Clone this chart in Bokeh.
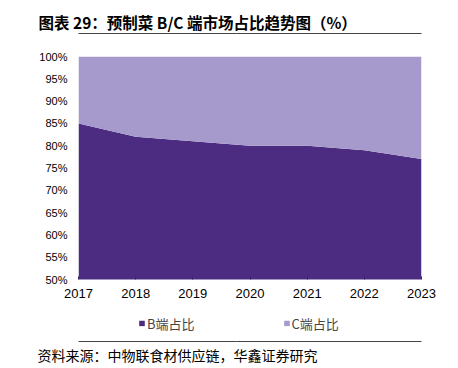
from bokeh.plotting import figure
from bokeh.layouts import column
from bokeh.models import (Range1d, FixedTicker, PrintfTickFormatter, Title,
                          LinearAxis, Legend, LegendItem, ColumnDataSource)
from bokeh.embed import file_html
from bokeh.resources import INLINE

years = [2017, 2018, 2019, 2020, 2021, 2022, 2023]
b_share = [85, 82, 81, 80, 80, 79, 77]
c_share = [15, 18, 19, 20, 20, 21, 23]
y_ticks = [50, 55, 60, 65, 70, 75, 80, 85, 90, 95, 100]
series_names = ["B端占比", "C端占比"]
title_text = "图表 29：预制菜 B/C 端市场占比趋势图（%）"
source_text = "资料来源：中物联食材供应链，华鑫证券研究"

DARK = "#4B2C81"
LIGHT = "#A699CC"
RULE = "#444444"
W, H = 458, 368
FL, FR, FT, FB = 78, 421, 56, 279   # frame edges in page pixels
MAIN_H = 310                        # height of the chart part
LEG_H = 26                          # height of the legend strip


def bare(fig):
    fig.outline_line_color = None
    fig.xgrid.visible = False
    fig.ygrid.visible = False
    fig.extra_x_ranges = {"page": Range1d(FL, FR)}


def helper_axis(bounds=(100, 400), gap=0, line=True):
    mid = (bounds[0] + bounds[1]) / 2.0
    ax = LinearAxis(x_range_name="page", ticker=FixedTicker(ticks=[mid]),
                    bounds=bounds,
                    major_tick_out=gap, major_tick_in=0, minor_tick_out=0,
                    minor_tick_in=0, major_tick_line_color=None,
                    minor_tick_line_color=None,
                    major_label_overrides={mid: ""},
                    major_label_text_font_size="0px",
                    major_label_standoff=0,
                    axis_line_color=RULE if line else None, axis_line_width=1)
    return ax


# ---- main chart ----
p = figure(frame_width=FR - FL, frame_height=FB - FT,
           output_backend="svg", toolbar_location=None,
           x_range=Range1d(2017, 2023), y_range=Range1d(50, 100),
           min_border_left=FL, min_border_right=W - FR, min_border_top=FT,
           min_border_bottom=MAIN_H - FB)
bare(p)

src = ColumnDataSource(dict(x=years, b=b_share, c=c_share))
rs = p.varea_stack(stackers=["b", "c"], x="x", source=src, color=[DARK, LIGHT])

p.yaxis.ticker = FixedTicker(ticks=y_ticks)
p.yaxis.formatter = PrintfTickFormatter(format="%d%%")
p.yaxis.axis_line_color = None
p.yaxis.major_tick_line_color = None
p.yaxis.minor_tick_line_color = None
p.yaxis.major_tick_out = 0
p.yaxis.major_label_standoff = 11
p.yaxis.major_label_text_font = "Liberation Sans"
p.yaxis.major_label_text_font_size = "11px"
p.yaxis.major_label_text_color = "#000000"

p.xaxis.ticker = FixedTicker(ticks=years)
p.xaxis.axis_line_color = None
p.xaxis.major_tick_in = 3
p.xaxis.major_tick_out = 0
p.xaxis.major_tick_line_color = "#3a2368"
p.xaxis.minor_tick_line_color = None
p.xaxis.major_label_standoff = 9
p.xaxis.major_label_text_font = "Liberation Sans"
p.xaxis.major_label_text_font_size = "13px"
p.xaxis.major_label_text_color = "#000000"

# above: spacer, rules, title
p.add_layout(helper_axis(gap=23, line=False), "above")
p.add_layout(helper_axis(bounds=(28, 236)), "above")
p.add_layout(helper_axis(bounds=(236, 445)), "above")
p.add_layout(helper_axis(bounds=(0, 10)), "above")
p.add_layout(Title(text=title_text, align="left", offset=38 - FL, standoff=2,
                   text_font="Noto Sans CJK SC", text_font_style="bold",
                   text_font_size="15.5px", text_color="#000000"), "above")

# ---- legend strip (legend sits inside this strip's frame) ----
leg = figure(frame_width=FR - FL, frame_height=LEG_H,
             output_backend="svg", toolbar_location=None,
             x_range=Range1d(2017, 2023), y_range=Range1d(200, 300),
             x_axis_type=None, y_axis_type=None,
             min_border_left=FL, min_border_right=W - FR, min_border_top=0,
             min_border_bottom=0)
bare(leg)
# same series, drawn outside this strip's visible range: only their legend shows
lrs = leg.varea_stack(stackers=["b", "c"], x="x", source=src, color=[DARK, LIGHT])
legend = Legend(items=[LegendItem(label=series_names[0], renderers=[lrs[0]]),
                       LegendItem(label=series_names[1], renderers=[lrs[1]])],
                location="left", orientation="horizontal",
                glyph_width=7, glyph_height=7, spacing=88, padding=0, margin=60,
                label_standoff=2, label_text_font="Noto Sans CJK SC",
                label_text_font_size="13px", border_line_color=None,
                background_fill_alpha=0)
leg.add_layout(legend, "center")

# ---- source strip: rule and source note in the above panel ----
SRC_H = H - MAIN_H - LEG_H
foot = figure(frame_width=FR - FL, frame_height=2,
              output_backend="svg", toolbar_location=None,
              x_range=Range1d(2017, 2023), y_range=Range1d(200, 300),
              x_axis_type=None, y_axis_type=None,
              min_border_left=FL, min_border_right=W - FR,
              min_border_top=SRC_H - 2, min_border_bottom=0)
bare(foot)
foot.add_layout(Title(text=source_text, align="left", offset=37 - FL, standoff=3,
                      text_font="Noto Sans CJK SC", text_font_style="normal",
                      text_font_size="14px", text_color="#000000"), "above")
foot.add_layout(helper_axis(bounds=(28, 236)), "above")
foot.add_layout(helper_axis(bounds=(236, 445)), "above")
foot.add_layout(helper_axis(bounds=(0, 10)), "above")

layout = column(p, leg, foot, spacing=0)
open("out.html", "w").write(file_html(layout, INLINE))
